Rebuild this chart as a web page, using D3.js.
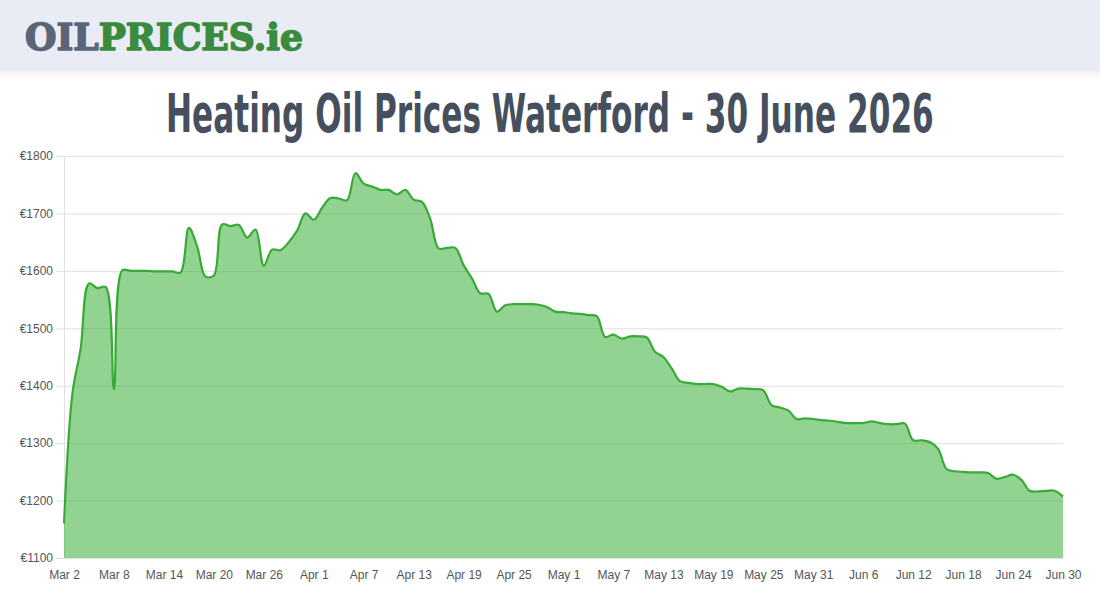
<!DOCTYPE html>
<html>
<head>
<meta charset="utf-8">
<script src="https://cdn.jsdelivr.net/npm/d3@7"></script>
<style>
  html, body { margin: 0; padding: 0; background: #fff; }
  svg { display: block; }
</style>
</head>
<body>
<div id="chart"></div>
<script>
////////////////////////////////////////////////////////////////
// Data
const title = "Heating Oil Prices Waterford - 30 June 2026";
const startDate = "2026-03-02"; // one price per day from here
const prices = [
  // Mar 2 - Mar 31
  1160, 1385, 1465, 1578, 1570, 1572, 1394, 1601, 1600, 1600,
  1600, 1599, 1599, 1599, 1597, 1675, 1642, 1590, 1592, 1681,
  1678, 1680, 1658, 1672, 1609, 1637, 1636, 1650, 1670, 1700,
  // Apr 1 - Apr 30
  1689, 1710, 1727, 1726, 1723, 1770, 1752, 1747, 1741, 1741,
  1733, 1741, 1724, 1720, 1690, 1639, 1640, 1640, 1610, 1587,
  1561, 1560, 1529, 1540, 1542, 1542, 1542, 1541, 1537, 1529,
  // May 1 - May 31
  1528, 1526, 1525, 1523, 1521, 1485, 1489, 1482, 1486, 1486,
  1484, 1459, 1450, 1430, 1408, 1405, 1403, 1403, 1403, 1398,
  1390, 1395, 1395, 1394, 1392, 1366, 1362, 1357, 1342, 1343,
  1342,
  // Jun 1 - Jun 30
  1340, 1339, 1337, 1335, 1335, 1335, 1338, 1335, 1333, 1333,
  1334, 1305, 1305, 1302, 1290, 1255, 1251, 1250, 1249, 1249,
  1248, 1238, 1241, 1245, 1236, 1217, 1216, 1217, 1217, 1207
];
const yTicks = [1100, 1200, 1300, 1400, 1500, 1600, 1700, 1800];
const xTickLabels = ["Mar 2", "Mar 8", "Mar 14", "Mar 20", "Mar 26", "Apr 1", "Apr 7",
  "Apr 13", "Apr 19", "Apr 25", "May 1", "May 7", "May 13", "May 19", "May 25",
  "May 31", "Jun 6", "Jun 12", "Jun 18", "Jun 24", "Jun 30"];

////////////////////////////////////////////////////////////////
// Layout
const width = 1100;
const height = 600;
const margin = ({ top: 156, right: 37, bottom: 42, left: 64 });

const start = d3.utcParse("%Y-%m-%d")(startDate);
const data = prices.map((v, i) => ({ date: d3.utcDay.offset(start, i), value: v }));
const parseTick = d3.utcParse("%b %d %Y");
const tickDates = xTickLabels.map(l => parseTick(l + " 2026"));

const x = d3.scaleUtc()
  .domain(d3.extent(data, d => d.date))
  .range([margin.left, width - margin.right]);
const y = d3.scaleLinear()
  .domain([d3.min(yTicks), d3.max(yTicks)])
  .range([height - margin.bottom, margin.top]);

const svg = d3.select("#chart")
  .append("svg")
  .attr("width", width)
  .attr("height", height)
  .attr("viewBox", [0, 0, width, height]);

// squeeze a text horizontally so it spans `w` pixels
const fitWidth = (text, x0, y0, w) => {
  const natural = text.node().getComputedTextLength();
  text.attr("transform", `translate(${x0},${y0}) scale(${w / natural},1)`);
};

////////////////////////////////////////////////////////////////
// Header bar + logo
const defs = svg.append("defs");
defs.append("filter")
  .attr("id", "shadow")
  .attr("x", "-5%").attr("y", "-20%").attr("width", "110%").attr("height", "160%")
  .append("feDropShadow")
  .attr("dx", 0).attr("dy", 3)
  .attr("stdDeviation", 4)
  .attr("flood-color", "#000")
  .attr("flood-opacity", 0.08);

svg.append("rect")
  .attr("x", -10).attr("y", -10)
  .attr("width", width + 20).attr("height", 80)
  .attr("fill", "#e9ecf4")
  .attr("filter", "url(#shadow)");

const logo = svg.append("text")
  .attr("stroke-width", 1.6)
  .attr("stroke-linejoin", "round")
  .style("font", "bold 37px 'DejaVu Serif', serif");
logo.append("tspan").attr("fill", "#5b6578").attr("stroke", "#5b6578").text("OIL");
logo.append("tspan").attr("fill", "#3a8b3e").attr("stroke", "#3a8b3e").text("PRICES.ie");
fitWidth(logo, 25, 50, 278);

// Title
const titleText = svg.append("text")
  .attr("fill", "#454f5e")
  .style("font", "bold 54px 'DejaVu Sans Condensed', sans-serif")
  .text(title);
fitWidth(titleText, 166, 132, 768);

////////////////////////////////////////////////////////////////
// Grid and axes
const yAxis = svg.append("g")
  .attr("transform", `translate(${margin.left},0)`)
  .call(d3.axisLeft(y)
    .tickValues(yTicks)
    .tickSize(8)
    .tickPadding(3)
    .tickFormat(d => "€" + d));
yAxis.select(".domain").attr("stroke", "#e0e0e0");
yAxis.selectAll(".tick line").attr("stroke", "#e0e0e0");
yAxis.selectAll(".tick text")
  .attr("fill", "#555")
  .style("font", "12px 'Liberation Sans', Arial, sans-serif");

svg.append("g")
  .selectAll("line")
  .data(yTicks)
  .join("line")
  .attr("x1", margin.left)
  .attr("x2", width - margin.right)
  .attr("y1", d => y(d) + 0.5)
  .attr("y2", d => y(d) + 0.5)
  .attr("stroke", "#e0e0e0");

const xAxis = svg.append("g")
  .attr("transform", `translate(0,${height - margin.bottom})`)
  .call(d3.axisBottom(x)
    .tickValues(tickDates)
    .tickSize(0)
    .tickPadding(12)
    .tickFormat((d, i) => xTickLabels[i]));
xAxis.select(".domain").remove();
xAxis.selectAll(".tick text")
  .attr("fill", "#555")
  .style("font", "12px 'Liberation Sans', Arial, sans-serif");

////////////////////////////////////////////////////////////////
// Area + line
const curve = d3.curveCatmullRom.alpha(0.5);

svg.append("path")
  .datum(data)
  .attr("fill", "rgba(38,168,38,0.5)")
  .attr("d", d3.area()
    .x(d => x(d.date))
    .y0(y(d3.min(yTicks)))
    .y1(d => y(d.value))
    .curve(curve));

svg.append("path")
  .datum(data)
  .attr("fill", "none")
  .attr("stroke", "#38aa36")
  .attr("stroke-width", 2.2)
  .attr("stroke-linejoin", "round")
  .attr("d", d3.line()
    .x(d => x(d.date))
    .y(d => y(d.value))
    .curve(curve));
</script>
</body>
</html>
